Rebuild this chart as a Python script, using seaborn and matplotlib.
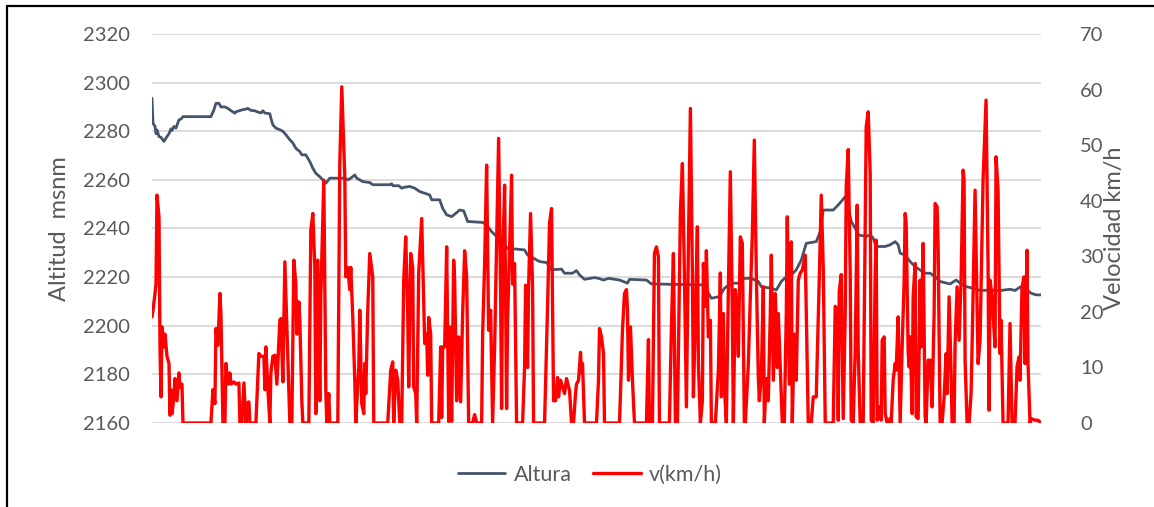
import matplotlib
matplotlib.use("Agg")
import matplotlib.pyplot as plt
from matplotlib.lines import Line2D
from matplotlib.transforms import ScaledTranslation
import seaborn as sns
import pandas as pd

# Sample index along the ride and altitude (m above sea level)
t_alt = [0, 1, 3, 4, 5, 7, 9, 12, 14, 17, 19, 20, 22, 24, 27, 29, 31, 59, 62, 64, 67, 69,
         73, 76, 79, 83, 84, 88, 90, 93, 96, 99, 103, 106, 109, 111, 113, 118, 119, 121,
         124, 128, 131, 134, 138, 141, 144, 148, 150, 154, 158, 161, 164, 168, 171, 174,
         178, 193, 196, 199, 203, 205, 208, 211, 218, 221, 238, 240, 241, 247, 250, 253,
         258, 263, 268, 273, 278, 280, 288, 291, 295, 300, 304, 308, 312, 316, 331, 335,
         340, 345, 350, 355, 373, 376, 381, 388, 395, 400, 410, 413, 421, 425, 428, 433,
         443, 447, 452, 457, 468, 472, 476, 478, 495, 500, 553, 557, 560, 568, 573, 580,
         587, 593, 600, 607, 610, 620, 625, 630, 635, 640, 645, 650, 655, 665, 669, 672,
         682, 687, 690, 694, 697, 700, 704, 707, 715, 719, 722, 725, 734, 739, 744, 747,
         749, 754, 759, 764, 769, 774, 779, 784, 789, 799, 805, 810, 815, 822, 829, 842,
         849, 859, 864, 869, 875, 880, 885, 890]
altura = [2293.6, 2283.3, 2282.0, 2279.0, 2280.5, 2277.8, 2277.5, 2275.8, 2277.2, 2279.0,
          2281.0, 2280.3, 2282.0, 2281.3, 2284.7, 2285.0, 2286.0, 2286.0, 2288.8, 2291.5,
          2291.5, 2290.0, 2290.0, 2289.4, 2288.5, 2287.4, 2288.0, 2288.5, 2288.8, 2289.0,
          2289.4, 2288.6, 2288.4, 2287.9, 2287.5, 2288.4, 2287.5, 2287.2, 2285.4, 2282.6,
          2281.3, 2280.6, 2280.0, 2278.6, 2276.5, 2275.2, 2273.0, 2271.6, 2270.3, 2270.3,
          2267.5, 2264.8, 2262.7, 2261.3, 2260.0, 2258.6, 2260.7, 2260.7, 2260.0, 2260.7,
          2262.0, 2260.7, 2260.0, 2259.3, 2258.9, 2258.0, 2258.0, 2258.4, 2257.6, 2257.6,
          2256.6, 2257.0, 2257.3, 2256.6, 2255.2, 2254.5, 2253.8, 2251.8, 2251.8, 2248.3,
          2245.6, 2244.9, 2246.2, 2247.6, 2247.3, 2242.9, 2242.5, 2241.5, 2238.7, 2236.7,
          2235.3, 2231.9, 2231.2, 2229.1, 2228.0, 2226.4, 2226.0, 2223.0, 2223.3, 2221.6,
          2221.6, 2222.7, 2220.9, 2219.1, 2219.8, 2219.5, 2218.8, 2219.5, 2218.8, 2218.2,
          2217.5, 2219.1, 2218.8, 2217.2, 2216.8, 2213.4, 2211.3, 2212.0, 2215.4, 2217.5,
          2217.5, 2219.5, 2219.5, 2218.2, 2216.1, 2215.4, 2214.7, 2218.2, 2220.2, 2220.9,
          2223.0, 2227.0, 2233.9, 2234.6, 2238.7, 2247.6, 2247.6, 2249.7, 2251.1, 2253.1,
          2249.0, 2242.9, 2240.1, 2237.4, 2236.7, 2237.4, 2236.0, 2232.6, 2232.6, 2233.3,
          2234.6, 2233.3, 2229.8, 2229.1, 2226.4, 2224.3, 2222.9, 2221.6, 2221.6, 2220.2,
          2218.2, 2217.2, 2218.8, 2217.2, 2216.1, 2215.4, 2214.5, 2214.7, 2214.5, 2215.0,
          2214.5, 2215.9, 2215.0, 2213.4, 2212.7, 2212.7]

# Sample index and speed (km/h)
t_vel = [0, 1, 3, 4, 5, 7, 8, 9, 10, 12, 13, 15, 17, 18, 19, 20, 22, 23, 25, 27, 28, 30,
         31, 59, 61, 63, 64, 66, 68, 69, 71, 73, 74, 76, 78, 79, 82, 84, 87, 88, 90, 92,
         94, 95, 97, 98, 104, 107, 109, 112, 113, 114, 116, 118, 119, 121, 123, 125, 128,
         129, 131, 133, 138, 140, 142, 144, 145, 147, 148, 150, 151, 157, 159, 161, 163,
         164, 166, 168, 169, 172, 174, 175, 177, 178, 186, 188, 190, 193, 194, 196, 198,
         199, 201, 203, 204, 207, 208, 210, 212, 213, 214, 216, 218, 221, 222, 233, 236,
         239, 241, 242, 244, 246, 248, 250, 252, 254, 256, 257, 259, 261, 262, 264, 265,
         267, 270, 271, 273, 275, 276, 277, 279, 280, 287, 289, 290, 291, 293, 295, 297,
         298, 300, 302, 303, 305, 307, 309, 311, 313, 315, 317, 321, 323, 325, 330, 331,
         333, 335, 337, 339, 341, 343, 345, 347, 349, 350, 351, 353, 355, 356, 358, 360,
         361, 363, 365, 371, 373, 374, 376, 377, 379, 381, 382, 393, 396, 398, 400, 402,
         404, 406, 407, 409, 411, 413, 415, 417, 418, 420, 422, 424, 425, 427, 429, 430,
         431, 433, 445, 447, 448, 450, 452, 453, 468, 469, 471, 473, 475, 476, 477, 479,
         481, 483, 495, 497, 498, 501, 503, 505, 507, 508, 518, 520, 522, 524, 526, 528,
         529, 531, 533, 535, 537, 539, 541, 542, 544, 546, 547, 549, 551, 552, 554, 555,
         557, 559, 560, 564, 567, 569, 570, 572, 573, 575, 577, 579, 581, 582, 584, 586,
         587, 589, 591, 593, 594, 597, 599, 601, 603, 605, 607, 608, 610, 612, 613, 615,
         617, 619, 620, 622, 624, 626, 627, 629, 631, 633, 635, 636, 638, 640, 641, 643,
         645, 647, 649, 651, 654, 656, 657, 660, 662, 665, 666, 668, 670, 672, 674, 682,
         684, 686, 687, 688, 690, 692, 694, 695, 697, 699, 700, 702, 704, 706, 707, 709,
         712, 714, 715, 717, 719, 720, 722, 724, 725, 726, 728, 730, 731, 733, 734, 736,
         739, 740, 742, 744, 745, 747, 749, 751, 753, 754, 755, 757, 758, 759, 761, 762,
         764, 765, 767, 769, 770, 772, 774, 775, 777, 779, 781, 783, 784, 786, 787, 789,
         791, 793, 795, 796, 798, 800, 801, 803, 804, 806, 808, 810, 812, 813, 814, 816,
         818, 820, 821, 824, 825, 827, 829, 830, 832, 835, 837, 838, 839, 841, 844, 845,
         847, 849, 850, 852, 857, 859, 861, 864, 866, 868, 869, 871, 873, 874, 876, 877,
         879, 880, 884, 887, 890]
velocidad = [19.1, 20.3, 23.3, 25.0, 41.0, 37.0, 13.7, 4.7, 17.3, 13.7, 16.0, 12.0, 10.7,
             1.4, 6.0, 1.7, 4.7, 8.0, 4.0, 9.0, 6.5, 7.0, 0.0, 0.0, 6.0, 3.5, 17.0, 14.0,
             23.3, 19.7, 0.0, 0.0, 10.7, 7.0, 9.0, 7.0, 7.4, 7.0, 7.2, 0.0, 0.0, 7.2, 0.0,
             3.5, 3.8, 0.0, 0.0, 12.5, 12.0, 12.0, 6.0, 13.7, 6.2, 0.0, 9.0, 12.0, 12.2,
             7.0, 18.5, 18.8, 7.4, 29.0, 0.0, 0.0, 29.3, 25.0, 16.0, 21.8, 18.5, 4.0, 0.0,
             0.0, 34.7, 37.7, 28.0, 1.7, 29.3, 4.0, 22.7, 43.7, 6.0, 0.0, 5.3, 0.0, 0.0,
             46.7, 60.5, 44.3, 26.3, 28.0, 24.0, 28.0, 19.0, 7.7, 0.0, 10.0, 20.3, 3.5, 1.7,
             10.7, 5.3, 20.3, 30.5, 26.3, 0.0, 0.0, 0.0, 9.5, 11.0, 0.0, 9.5, 7.7, 0.0, 0.0,
             25.7, 33.5, 19.7, 6.5, 30.5, 28.0, 6.5, 5.3, 0.0, 27.0, 36.8, 29.3, 14.3, 16.0,
             8.6, 19.0, 16.0, 0.0, 0.0, 13.7, 1.0, 13.7, 13.7, 31.7, 0.3, 17.3, 0.3, 29.3,
             25.7, 4.0, 15.5, 3.8, 19.7, 31.0, 26.3, 0.0, 0.0, 1.5, 0.0, 0.0, 16.0, 28.7,
             46.4, 16.7, 20.3, 0.0, 13.7, 32.9, 51.2, 23.3, 2.6, 28.7, 42.8, 2.6, 18.5,
             31.7, 44.6, 25.0, 28.7, 0.0, 0.0, 10.0, 24.8, 10.0, 24.5, 37.7, 24.5, 0.0, 0.0,
             21.0, 36.0, 38.6, 4.0, 4.0, 8.2, 4.7, 7.7, 6.5, 5.3, 8.0, 6.5, 5.9, 0.0, 0.0,
             5.3, 7.0, 7.7, 12.7, 9.0, 10.7, 0.0, 0.0, 7.7, 17.0, 15.5, 12.5, 0.0, 0.0, 5.3,
             16.7, 23.3, 24.0, 20.3, 7.7, 17.3, 7.7, 0.0, 0.0, 15.0, 0.0, 0.0, 30.5, 31.7,
             29.9, 0.0, 0.0, 17.3, 30.5, 0.0, 0.0, 24.5, 38.0, 46.7, 27.0, 2.9, 31.7, 56.6,
             27.0, 4.7, 19.0, 35.3, 10.7, 0.0, 4.0, 28.7, 21.0, 31.0, 15.5, 18.5, 0.0, 0.0,
             9.5, 27.0, 4.7, 19.7, 6.5, 0.0, 24.0, 45.2, 19.7, 0.0, 24.0, 19.7, 12.0, 33.5,
             32.3, 0.0, 0.0, 10.7, 22.7, 34.0, 50.9, 27.0, 8.3, 4.0, 8.3, 24.5, 0.0, 8.0,
             4.0, 19.7, 30.2, 7.7, 23.3, 10.0, 19.7, 10.0, 0.0, 0.0, 19.7, 37.1, 7.0, 32.6,
             0.0, 16.0, 7.7, 25.7, 27.0, 27.5, 30.2, 10.7, 0.0, 0.0, 4.7, 4.7, 12.0, 25.7,
             41.0, 28.0, 0.0, 0.0, 21.0, 20.3, 0.5, 23.7, 26.7, 0.8, 19.7, 42.5, 49.2, 26.9,
             0.5, 0.0, 13.0, 39.2, 13.0, 0.0, 0.0, 35.3, 53.3, 56.0, 44.9, 0.5, 0.0, 26.9,
             32.9, 0.5, 2.9, 0.5, 14.9, 15.5, 1.7, 0.0, 0.8, 0.0, 7.7, 10.7, 9.5, 19.1, 0.0,
             13.7, 25.7, 37.7, 35.9, 12.8, 10.1, 15.5, 1.7, 22.7, 28.7, 1.1, 0.8, 25.7, 13.7,
             32.3, 1.1, 0.0, 11.3, 11.3, 2.9, 19.7, 39.5, 38.9, 31.7, 0.0, 0.0, 4.7, 12.5,
             5.3, 22.7, 8.9, 0.0, 0.0, 14.3, 24.5, 14.9, 25.7, 45.5, 43.7, 11.3, 0.0, 0.0,
             5.3, 13.7, 41.9, 31.1, 10.7, 14.9, 24.5, 43.7, 58.1, 28.1, 2.3, 25.7, 22.7,
             13.7, 47.9, 41.9, 12.5, 18.5, 0.0, 0.0, 17.9, 0.0, 0.0, 10.1, 11.9, 7.7, 24.5,
             26.3, 10.7, 31.1, 10.7, 0.0, 0.8, 0.5, 0.5, 0.0]

alt_ticks = [2160, 2180, 2200, 2220, 2240, 2260, 2280, 2300, 2320]
vel_ticks = [0, 10, 20, 30, 40, 50, 60, 70]

df_alt = pd.DataFrame({"muestra": t_alt, "Altura": altura})
df_vel = pd.DataFrame({"muestra": t_vel, "v(km/h)": velocidad})

sns.set_style("white")
plt.rcParams["font.family"] = ["Lato", "DejaVu Sans"]

COL_ALT = "#44546A"
COL_VEL = "#FF0000"
TXT = "#595959"

fig = plt.figure(figsize=(11.54, 5.07), dpi=100)
ax = fig.add_axes([152 / 1154, 1 - 423 / 507, (1041 - 152) / 1154, (423 - 34) / 507])
ax2 = ax.twinx()

sns.lineplot(data=df_alt, x="muestra", y="Altura", ax=ax, color=COL_ALT,
             linewidth=2.0, sort=False, legend=False)
sns.lineplot(data=df_vel, x="muestra", y="v(km/h)", ax=ax2, color=COL_VEL,
             linewidth=2.4, sort=False, legend=False)

ax.set_xlim(0, 890)
ax.set_ylim(alt_ticks[0], alt_ticks[-1])
ax2.set_ylim(vel_ticks[0], vel_ticks[-1])
ax.set_yticks(alt_ticks)
ax2.set_yticks(vel_ticks)
ax.set_xticks([])
ax.set_xlabel("")
ax2.set_xlabel("")
ax.yaxis.grid(True, color="#D9D9D9", linewidth=1.3)
ax2.yaxis.grid(False)
ax.set_axisbelow(True)

for a in (ax, ax2):
    for s in a.spines.values():
        s.set_visible(False)
    a.tick_params(axis="y", which="both", length=0, labelsize=14.5,
                  labelcolor=TXT, pad=16)

# Push the speed tick labels away from the plotting area
shift = ScaledTranslation(12 / 72, 0, fig.dpi_scale_trans)
for lbl in ax2.get_yticklabels():
    lbl.set_transform(lbl.get_transform() + shift)

ax.set_ylabel("Altitud  msnm", fontsize=17, color=TXT, va="center")
ax2.set_ylabel("Velocidad km/h", fontsize=17, color=TXT, va="center")
ax.yaxis.set_label_coords(-0.1035, 0.5)
ax2.yaxis.set_label_coords(1.0832, 0.5)

handles = [Line2D([0], [0], color=COL_ALT, linewidth=2.0),
           Line2D([0], [0], color=COL_VEL, linewidth=2.4)]
fig.legend(handles, ["Altura", "v(km/h)"], loc="center",
           bbox_to_anchor=(590 / 1154, 1 - 475 / 507), ncol=2, frameon=False,
           fontsize=15.5, labelcolor=TXT, handlelength=2.2, handletextpad=0.4,
           columnspacing=1.0)

# Frame edges on the left and top of the figure
fig.add_artist(Line2D([7 / 1154, 7 / 1154], [0, 1 - 6 / 507], color="black",
                      linewidth=1.6, transform=fig.transFigure))
fig.add_artist(Line2D([7 / 1154, 1], [1 - 6 / 507, 1 - 6 / 507], color="black",
                      linewidth=1.6, transform=fig.transFigure))

fig.savefig("out.png", dpi=100)
